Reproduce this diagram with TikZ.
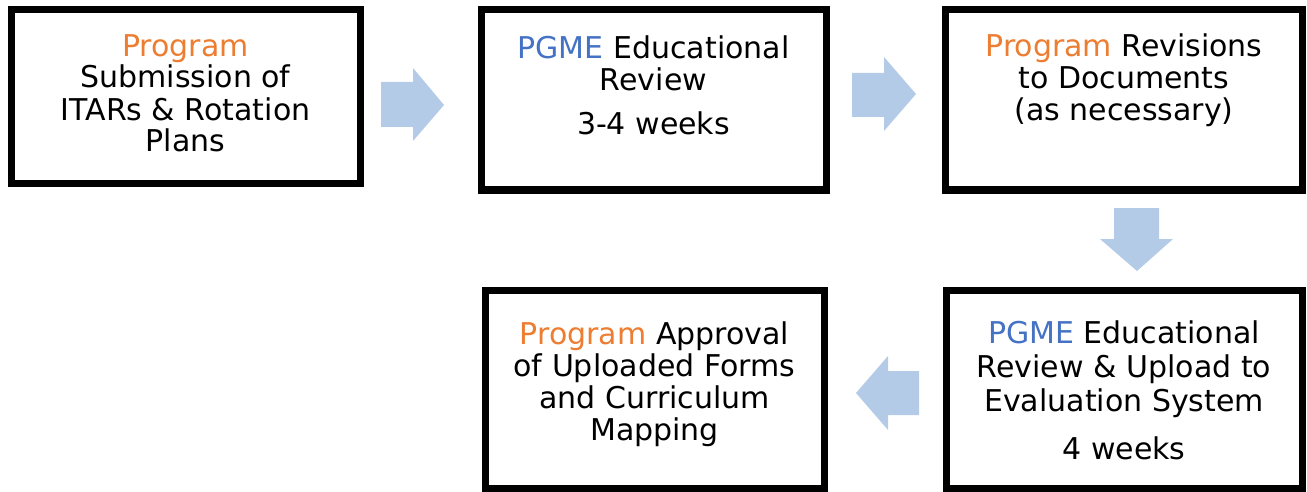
\documentclass[tikz,border=0pt]{standalone}
\usepackage{fontspec}
\setmainfont{DejaVu Sans}
\definecolor{prog}{RGB}{237,125,49}
\definecolor{pgme}{RGB}{68,114,196}
\definecolor{flow}{RGB}{180,203,232}
\begin{document}
\begin{tikzpicture}[x=1pt,y=-1pt,
  stage/.style={draw=black, line width=7pt, inner sep=0pt, fill=white},
  caption/.style={anchor=base, align=center, inner sep=0pt,
    font=\fontsize{30}{32}\selectfont},
  flowarrow/.style={fill=flow}]
\useasboundingbox (0,0) rectangle (1307,492);

% stage boxes
\node[stage, minimum width=349pt, minimum height=174pt] (b1) at (185.5,97) {};
\node[stage, minimum width=345pt, minimum height=180pt] (b2) at (653.5,100) {};
\node[stage, minimum width=357pt, minimum height=180pt] (b3) at (1123.5,100) {};
\node[stage, minimum width=339pt, minimum height=198pt] (b4) at (654.5,389) {};
\node[stage, minimum width=356pt, minimum height=198pt] (b5) at (1124,389) {};

% stage texts (anchored at the baseline of their last line)
\node[caption] (t1) at (185.5,152)
  {\textcolor{prog}{Program}\\Submission of\\ITARs \& Rotation\\Plans};
\node[caption] (t2) at (653.5,135)
  {\textcolor{pgme}{PGME} Educational\\Review\\[12pt]3-4 weeks};
\node[caption] (t3) at (1124,121)
  {\textcolor{prog}{Program} Revisions\\to Documents\\(as necessary)};
\node[caption] (t4) at (654.5,440)
  {\textcolor{prog}{Program} Approval\\of Uploaded Forms\\and Curriculum\\Mapping};
\node[caption, font=\fontsize{30}{34}\selectfont] (t5) at (1124,459)
  {\textcolor{pgme}{PGME} Educational\\Review \& Upload to\\Evaluation System\\[14pt]4 weeks};

% block arrows between stages
\fill[flowarrow] (381,82) -- (413,82) -- (413,68) -- (444,105) -- (413,141)
  -- (413,127) -- (381,127) -- cycle;
\fill[flowarrow] (852,73) -- (884,73) -- (884,57) -- (916,94) -- (884,131)
  -- (884,117) -- (852,117) -- cycle;
\fill[flowarrow] (1114,208) -- (1159,208) -- (1159,239) -- (1173,239)
  -- (1137,271) -- (1100,239) -- (1114,239) -- cycle;
\fill[flowarrow] (919,371) -- (888,371) -- (888,356) -- (856,393) -- (888,430)
  -- (888,415) -- (919,415) -- cycle;
\end{tikzpicture}
\end{document}
